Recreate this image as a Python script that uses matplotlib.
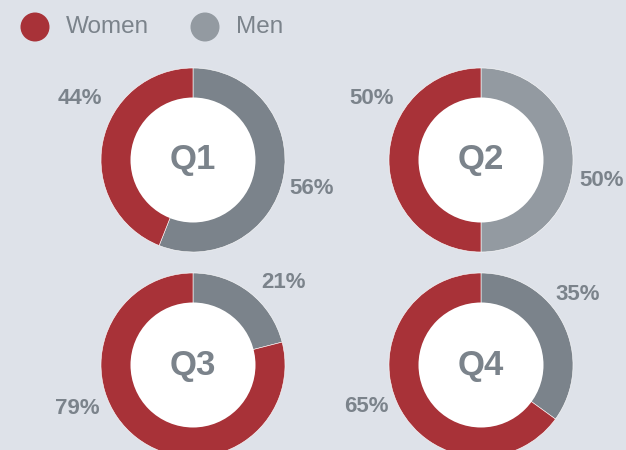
import matplotlib
matplotlib.use("Agg")
import matplotlib.pyplot as plt
from matplotlib.patches import Circle

quarters = ["Q1", "Q2", "Q3", "Q4"]
women = [44, 50, 79, 65]
men = [56, 50, 21, 35]
series = ["Women", "Men"]

BG = "#dee2e9"
RED = "#a83238"
GRAY_DARK = "#7b838b"
GRAY_LIGHT = "#939aa1"
TXT = "#7b838b"

W, H = 626, 450
fig = plt.figure(figsize=(W / 100, H / 100), dpi=100, facecolor=BG)
ax = fig.add_axes([0, 0, 1, 1])

centers = [(193, 290), (481, 290), (193, 85), (481, 85)]
men_colors = [GRAY_DARK, GRAY_LIGHT, GRAY_DARK, GRAY_DARK]
# label offsets (women, men) relative to center in pixels
offsets = [
    ((-113, 62), (119, -29)),
    ((-109, 62), (121, -20)),
    ((-116, -43), (91, 82)),
    ((-115, -42), (97, 71)),
]
R_OUT, R_IN = 92, 62.5

for q, w, m, c, mc, (ow, om) in zip(quarters, women, men, centers, men_colors, offsets):
    ax.pie([m, w], colors=[mc, RED], startangle=90, counterclock=False,
           center=c, radius=R_OUT,
           wedgeprops=dict(edgecolor="white", linewidth=0.4, antialiased=True))
    ax.add_patch(Circle(c, R_IN, facecolor="white", edgecolor="none", zorder=3))
    ax.text(c[0], c[1], q, ha="center", va="center", fontsize=25,
            fontweight="bold", color=TXT, family="Liberation Sans", zorder=4)
    ax.text(c[0] + ow[0], c[1] + ow[1], f"{w}%", ha="center", va="center",
            fontsize=16, fontweight="bold", color=TXT, family="Liberation Sans")
    ax.text(c[0] + om[0], c[1] + om[1], f"{m}%", ha="center", va="center",
            fontsize=16, fontweight="bold", color=TXT, family="Liberation Sans")

# legend
leg_pos = [(35, 423), (205, 423)]
leg_colors = [RED, GRAY_LIGHT]
for name, (x, y), col in zip(series, leg_pos, leg_colors):
    ax.add_patch(Circle((x, y), 14.5, facecolor=col, edgecolor="none"))
    ax.text(x + 31, y, name, ha="left", va="center", fontsize=17.5,
            color=TXT, family="Liberation Sans")

ax.set_xlim(0, W)
ax.set_ylim(0, H)
ax.set_aspect("equal")
ax.set_axis_off()

fig.savefig("out.png", dpi=100, facecolor=BG)
